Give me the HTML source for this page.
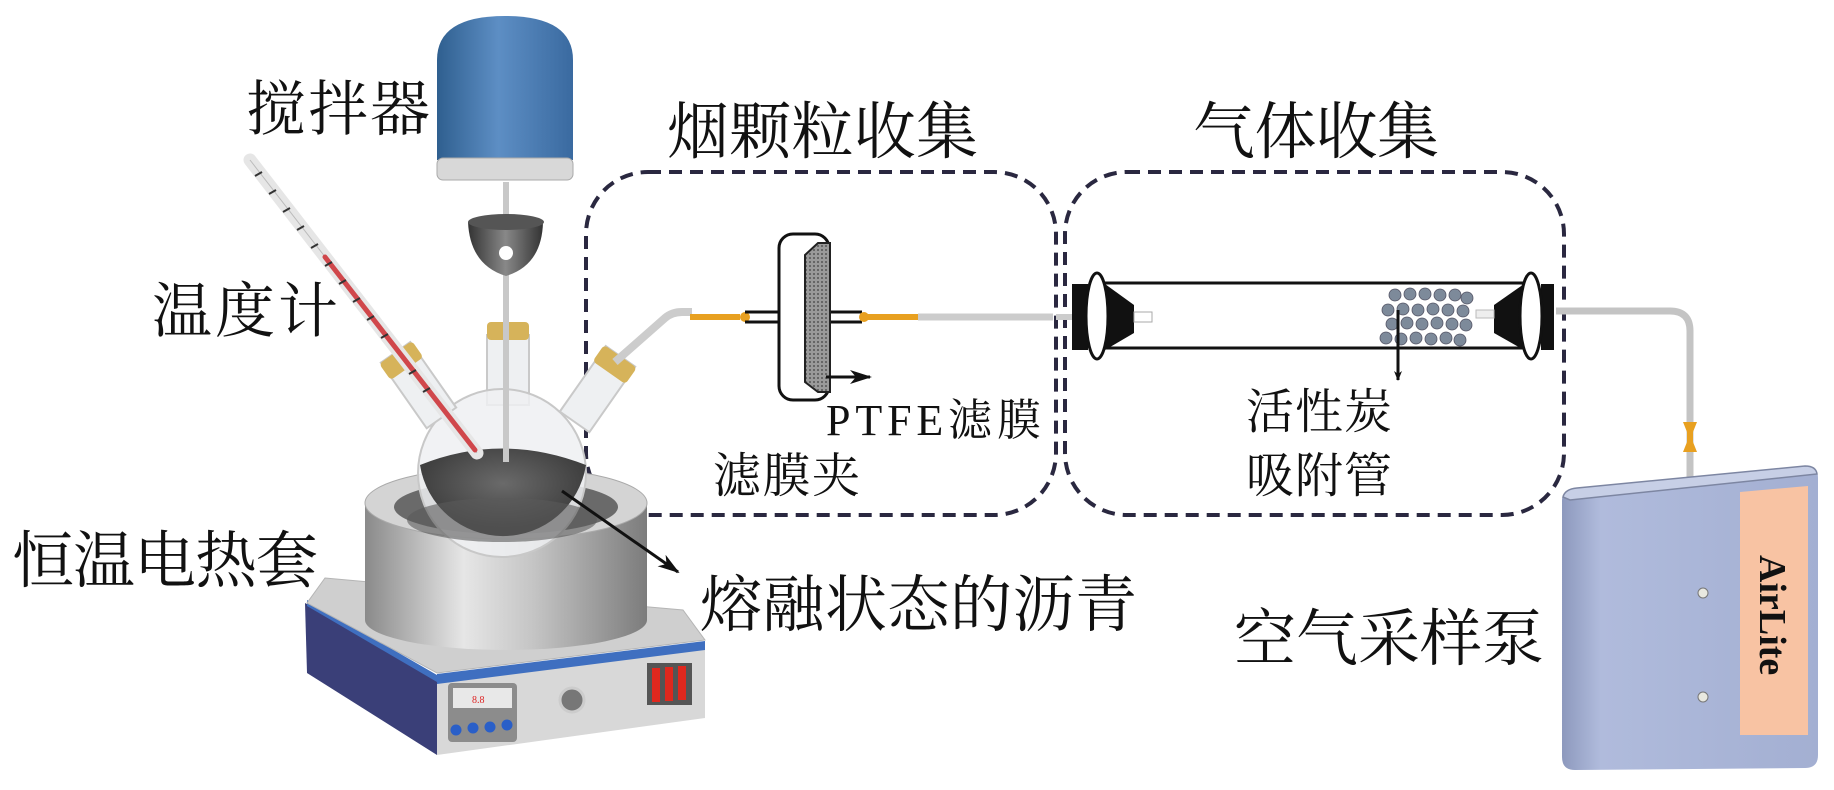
<!DOCTYPE html>
<html><head><meta charset="utf-8"><style>
html,body{margin:0;padding:0;background:#fff;}
svg{display:block;}
text{font-family:"Liberation Serif","Noto Serif CJK SC",serif;fill:#111;}
</style></head><body>
<svg width="1834" height="790" viewBox="0 0 1834 790" xmlns="http://www.w3.org/2000/svg">
<defs>
<linearGradient id="blue" x1="0" x2="1"><stop offset="0" stop-color="#2f5f8f"/><stop offset="0.45" stop-color="#5d8ec4"/><stop offset="1" stop-color="#3a6aa0"/></linearGradient>
<linearGradient id="cyl" x1="0" x2="1"><stop offset="0" stop-color="#8a8a8a"/><stop offset="0.35" stop-color="#e6e6e6"/><stop offset="0.6" stop-color="#c4c4c4"/><stop offset="1" stop-color="#7c7c7c"/></linearGradient>
<linearGradient id="cone" x1="0" x2="1"><stop offset="0" stop-color="#333"/><stop offset="0.5" stop-color="#888"/><stop offset="1" stop-color="#333"/></linearGradient>
<linearGradient id="pump" x1="0" x2="1"><stop offset="0" stop-color="#8d99bd"/><stop offset="0.15" stop-color="#b0bbdc"/><stop offset="1" stop-color="#a3afd2"/></linearGradient>
<radialGradient id="liq" cx="0.5" cy="0.4"><stop offset="0" stop-color="#6a6a6a"/><stop offset="1" stop-color="#404040"/></radialGradient>
<pattern id="mesh" width="4" height="4" patternUnits="userSpaceOnUse"><rect width="4" height="4" fill="#9a9a9a"/><circle cx="2" cy="2" r="1" fill="#555"/></pattern>
<marker id="ah" markerWidth="10" markerHeight="8" refX="9" refY="4" orient="auto" markerUnits="userSpaceOnUse"><path d="M0,0 L10,4 L0,8 L3,4z" fill="#111"/></marker>
<marker id="ah2" markerWidth="22" markerHeight="14" refX="20" refY="7" orient="auto" markerUnits="userSpaceOnUse"><path d="M0,0 L22,7 L0,14 L6,7z" fill="#111"/></marker>
</defs>

<rect x="586" y="172" width="470" height="343" rx="62" fill="none" stroke="#2a2840" stroke-width="4" stroke-dasharray="13,8"/>
<rect x="1065" y="172" width="499" height="343" rx="62" fill="none" stroke="#2a2840" stroke-width="4" stroke-dasharray="13,8"/>

<polygon points="305,603 437,678 437,755 307,673" fill="#3a3f78"/>
<polygon points="437,678 705,645 705,718 437,755" fill="#d8d8d8"/>
<polygon points="437,674 705,641 705,650 437,684" fill="#3f6fc0"/>
<polygon points="307,600 437,675 437,682 307,606" fill="#3f6fc0"/>
<polygon points="325,578 683,610 705,640 437,673 307,603" fill="#cfcfcf" stroke="#b5b5b5"/>
<rect x="448" y="683" width="69" height="59" rx="4" fill="#8c8c8c"/>
<rect x="453" y="688" width="59" height="20" fill="#e8e8e8"/>
<text x="472" y="703" font-size="10" style="fill:#d22">8.8</text>
<circle cx="456" cy="730" r="5.5" fill="#2a5fc8"/><circle cx="473" cy="728" r="5.5" fill="#2a5fc8"/><circle cx="490" cy="727" r="5.5" fill="#2a5fc8"/><circle cx="507" cy="725" r="5.5" fill="#2a5fc8"/>
<circle cx="572" cy="700" r="12" fill="#777" stroke="#ccc" stroke-width="3"/>
<rect x="647" y="663" width="45" height="42" fill="#555"/>
<rect x="652" y="668" width="8" height="34" fill="#e0281e"/><rect x="665" y="667" width="8" height="34" fill="#e0281e"/><rect x="678" y="666" width="8" height="34" fill="#e0281e"/>
<path d="M365,503 L365,620 A141,30 0 0 0 647,620 L647,503 Z" fill="url(#cyl)"/>
<ellipse cx="506" cy="503" rx="141" ry="36" fill="#d4d4d4" stroke="#aaa"/>
<ellipse cx="506" cy="507" rx="112" ry="27" fill="#6a6a6a"/>

<rect x="487" y="335" width="42" height="70" fill="#eef0f2" stroke="#c9c9c9" stroke-width="2"/>
<rect x="487" y="322" width="42" height="18" rx="4" fill="#d6b35a"/>
<circle cx="502" cy="473" r="84" fill="#eef0f2" fill-opacity="0.85" stroke="#c8c8c8" stroke-width="2"/>
<path d="M420,465 Q502,432 586,465 A84,84 0 0 1 420,465 Z" fill="url(#liq)"/>
<ellipse cx="502" cy="520" rx="95" ry="22" fill="#5a5a5a" opacity="0.6"/>
<g transform="rotate(-35 403 363)"><rect x="385" y="350" width="36" height="80" fill="#eef0f2" stroke="#c9c9c9" stroke-width="2"/><rect x="383" y="350" width="40" height="20" rx="4" fill="#d6b35a"/></g>
<g transform="rotate(35 613 367)"><rect x="595" y="354" width="36" height="80" fill="#eef0f2" stroke="#c9c9c9" stroke-width="2"/><rect x="593" y="354" width="40" height="20" rx="4" fill="#d6b35a"/></g>
<path d="M615,362 L665,318 Q672,312 682,312 L692,312" fill="none" stroke="#ccc" stroke-width="8"/>
<line x1="506" y1="182" x2="506" y2="462" stroke="#c8c8c8" stroke-width="6"/>
<path d="M437,160 L437,60 Q437,16 505,16 Q573,16 573,60 L573,160 Z" fill="url(#blue)"/>
<rect x="437" y="158" width="136" height="22" rx="6" fill="#d8d8d8" stroke="#aaa"/>
<path d="M468,222 Q470,265 506,276 Q542,265 543,222 Z" fill="url(#cone)"/>
<ellipse cx="506" cy="222" rx="38" ry="8" fill="#555"/>
<circle cx="506" cy="253" r="7" fill="#fff"/>
<line x1="250" y1="160" x2="477" y2="453" stroke="#e6e6e6" stroke-width="13" stroke-linecap="round"/>
<line x1="250" y1="160" x2="477" y2="453" stroke="#bbb" stroke-width="1"/>
<line x1="325" y1="257" x2="475" y2="450" stroke="#d0474b" stroke-width="5" stroke-linecap="round"/>
<g stroke="#333" stroke-width="2">
<line x1="255" y1="176" x2="262" y2="172"/><line x1="269" y1="194" x2="276" y2="190"/><line x1="283" y1="212" x2="290" y2="208"/><line x1="297" y1="230" x2="304" y2="226"/><line x1="311" y1="248" x2="318" y2="244"/><line x1="325" y1="266" x2="332" y2="262"/><line x1="339" y1="284" x2="346" y2="280"/><line x1="353" y1="302" x2="360" y2="298"/><line x1="367" y1="320" x2="374" y2="316"/><line x1="381" y1="338" x2="388" y2="334"/><line x1="409" y1="374" x2="416" y2="370"/><line x1="423" y1="392" x2="430" y2="388"/>
</g>

<line x1="562" y1="491" x2="678" y2="572" stroke="#111" stroke-width="3" marker-end="url(#ah2)"/>

<line x1="690" y1="317" x2="740" y2="317" stroke="#e8a020" stroke-width="6"/>
<circle cx="745" cy="317" r="5" fill="#e8a020"/>
<line x1="745" y1="312" x2="778" y2="312" stroke="#111" stroke-width="3"/><line x1="745" y1="322" x2="778" y2="322" stroke="#111" stroke-width="3"/>
<line x1="830" y1="312" x2="862" y2="312" stroke="#111" stroke-width="3"/><line x1="830" y1="322" x2="862" y2="322" stroke="#111" stroke-width="3"/>
<circle cx="864" cy="317" r="5" fill="#e8a020"/>
<line x1="864" y1="317" x2="918" y2="317" stroke="#e8a020" stroke-width="6"/>
<line x1="918" y1="317" x2="1053" y2="317" stroke="#ccc" stroke-width="7"/>
<rect x="779" y="234" width="50" height="166" rx="14" fill="#fff" stroke="#111" stroke-width="3"/>
<polygon points="805,255 818,243 830,243 830,392 818,392 805,382" fill="url(#mesh)" stroke="#222" stroke-width="2"/>
<line x1="826" y1="377" x2="870" y2="377" stroke="#111" stroke-width="3" marker-end="url(#ah2)"/>

<line x1="1056" y1="317" x2="1072" y2="317" stroke="#ccc" stroke-width="6"/>
<rect x="1100" y="283" width="430" height="65" fill="#fff" stroke="#111" stroke-width="3"/>
<rect x="1072" y="284" width="16" height="66" fill="#111"/>
<polygon points="1105,284 1134,305 1134,333 1105,350" fill="#111"/>
<rect x="1134" y="312" width="18" height="10" fill="#fff" stroke="#aaa"/>
<ellipse cx="1097" cy="316" rx="11" ry="43" fill="#fff" stroke="#111" stroke-width="3"/>
<rect x="1541" y="284" width="13" height="66" fill="#111"/>
<polygon points="1524,284 1494,305 1494,333 1524,350" fill="#111"/>
<rect x="1476" y="310" width="18" height="8" fill="#eee" stroke="#bbb"/>
<ellipse cx="1531" cy="316" rx="11" ry="43" fill="#fff" stroke="#111" stroke-width="3"/>
<g fill="#7d8a9a" stroke="#556" stroke-width="0.8">
<circle cx="1395" cy="295" r="6"/><circle cx="1410" cy="294" r="6"/><circle cx="1425" cy="294" r="6"/><circle cx="1440" cy="295" r="6"/><circle cx="1455" cy="295" r="6"/><circle cx="1467" cy="298" r="6"/>
<circle cx="1388" cy="310" r="6"/><circle cx="1403" cy="309" r="6"/><circle cx="1418" cy="310" r="6"/><circle cx="1433" cy="309" r="6"/><circle cx="1448" cy="310" r="6"/><circle cx="1463" cy="311" r="6"/>
<circle cx="1392" cy="324" r="6"/><circle cx="1407" cy="323" r="6"/><circle cx="1422" cy="324" r="6"/><circle cx="1437" cy="323" r="6"/><circle cx="1452" cy="324" r="6"/><circle cx="1466" cy="325" r="6"/>
<circle cx="1386" cy="338" r="6"/><circle cx="1401" cy="339" r="6"/><circle cx="1416" cy="338" r="6"/><circle cx="1431" cy="339" r="6"/><circle cx="1446" cy="338" r="6"/><circle cx="1460" cy="340" r="6"/>
</g>
<line x1="1398" y1="310" x2="1398" y2="380" stroke="#111" stroke-width="3" marker-end="url(#ah)"/>

<path d="M1556,311 L1670,311 Q1690,311 1690,331 L1690,485" fill="none" stroke="#c4c4c4" stroke-width="7"/>
<path d="M1683,422 L1697,422 L1693,432 L1693,442 L1697,452 L1683,452 L1687,442 L1687,432 Z" fill="#e8a020"/>
<!-- pump -->
<path d="M1562,500 Q1562,490 1575,489 L1805,467 Q1818,466 1818,478 L1818,755 Q1818,768 1805,768 L1575,770 Q1562,770 1562,757 Z" fill="url(#pump)"/>
<path d="M1563,497 Q1565,489 1577,488 L1805,466 Q1816,466 1817,474 L1570,500 Z" fill="#c7cfe6" stroke="#7d86a2" stroke-width="1.5"/>
<polygon points="1740,492 1808,486 1808,735 1740,735" fill="#f8c3a3"/>
<circle cx="1703" cy="593" r="5" fill="#e8e8e0" stroke="#777"/>
<circle cx="1703" cy="697" r="5" fill="#e8e8e0" stroke="#777"/>
<text transform="translate(1760,555) rotate(90)" font-size="38" font-weight="bold">AirLite</text>

<text x="246" y="130" font-size="60" textLength="184">搅拌器</text>
<text x="152" y="332" font-size="60" textLength="186">温度计</text>
<text x="12" y="582" font-size="62" textLength="306">恒温电热套</text>
<text x="700" y="626" font-size="62" textLength="437">熔融状态的沥青</text>
<text x="667" y="153" font-size="62" textLength="311">烟颗粒收集</text>
<text x="1193" y="153" font-size="62" textLength="246">气体收集</text>
<text x="826" y="435" font-size="44" textLength="215">PTFE滤膜</text>
<text x="713" y="492" font-size="48" textLength="147">滤膜夹</text>
<text x="1246" y="428" font-size="48" textLength="146">活性炭</text>
<text x="1246" y="492" font-size="48" textLength="146">吸附管</text>
<text x="1234" y="660" font-size="62" textLength="310">空气采样泵</text>
</svg>
</body></html>
